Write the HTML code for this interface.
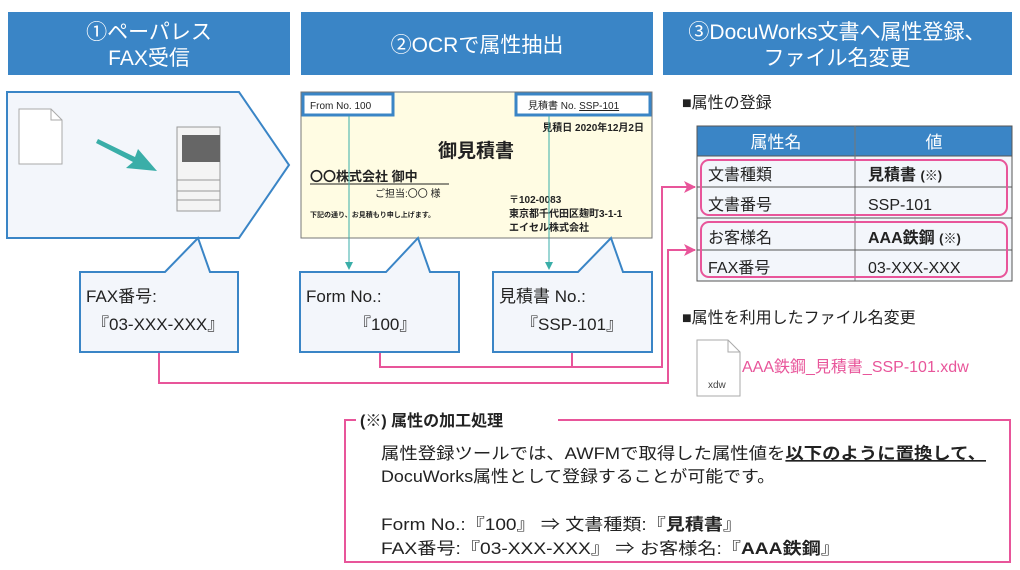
<!DOCTYPE html>
<html><head><meta charset="utf-8"><style>
html,body{margin:0;padding:0;background:#fff}
svg{display:block}
text{font-family:"Liberation Sans","Noto Sans CJK JP",sans-serif}
</style></head><body>
<svg width="1020" height="570" viewBox="0 0 1020 570" xmlns="http://www.w3.org/2000/svg">
<defs><marker id="pa" markerWidth="12" markerHeight="12" refX="11" refY="6" orient="auto" markerUnits="userSpaceOnUse"><path d="M0,0 L12,6 L0,12 L3,6z" fill="#e8559a"/></marker></defs>
<!-- headers -->
<rect x="8" y="12" width="282" height="63" fill="#3a85c6"/>
<rect x="301" y="12" width="352" height="63" fill="#3a85c6"/>
<rect x="663" y="12" width="349" height="63" fill="#3a85c6"/>
<g fill="#fff" font-size="21" text-anchor="middle">
<text x="149" y="39">①ペーパレス</text><text x="149" y="65">FAX受信</text>
<text x="477" y="52">②OCRで属性抽出</text>
<text x="837" y="39">③DocuWorks文書へ属性登録、</text><text x="837" y="65">ファイル名変更</text>
</g>
<!-- pentagon -->
<path d="M7,92 L239,92 L289,165 L239,238 L7,238Z" fill="#f3f6fb" stroke="#3a85c6" stroke-width="2"/>
<path d="M19,109 L51,109 L62,120 L62,164 L19,164Z" fill="#fff" stroke="#aaa"/>
<path d="M51,109 L51,120 L62,120" fill="none" stroke="#aaa"/>
<path d="M98,139 L135,157 L138,149 L157,171 L126,168 L133,162 L96,143Z" fill="#3aaea8"/>
<rect x="177" y="127" width="43" height="84" fill="#f4f4f4" stroke="#999"/>
<rect x="182" y="135" width="38" height="27" fill="#666"/>
<line x1="177" y1="180" x2="220" y2="180" stroke="#999"/><line x1="177" y1="191" x2="220" y2="191" stroke="#999"/><line x1="177" y1="200" x2="220" y2="200" stroke="#999"/>
<!-- FAX callout -->
<path d="M80,272 L165,272 L198,238 L210,272 L238,272 L238,352 L80,352Z" fill="#f3f6fb" stroke="#3a85c6" stroke-width="2"/>
<text x="86" y="302" font-size="17" fill="#222">FAX番号:</text>
<text x="92" y="330" font-size="17" fill="#222">『03-XXX-XXX』</text>
<!-- document -->
<rect x="301" y="92" width="351" height="146" fill="#fffce3" stroke="#777"/>
<rect x="303" y="94" width="90" height="21" fill="#fff" stroke="#3a85c6" stroke-width="3"/>
<text x="310" y="109" font-size="10" fill="#222">From No. 100</text>
<rect x="516" y="94" width="134" height="21" fill="#fff" stroke="#3a85c6" stroke-width="3"/>
<text x="528" y="109" font-size="10" fill="#222">見積書 No. <tspan text-decoration="underline">SSP-101</tspan></text>
<text x="644" y="131" font-size="10" fill="#222" text-anchor="end" font-weight="bold">見積日 2020年12月2日</text>
<text x="476" y="157" font-size="19" fill="#222" text-anchor="middle" font-weight="bold">御見積書</text>
<text x="310" y="181" font-size="13" fill="#222" font-weight="bold">〇〇株式会社  御中</text>
<line x1="310" y1="184" x2="449" y2="184" stroke="#222"/>
<text x="375" y="197" font-size="10" fill="#222">ご担当:〇〇  様</text>
<text x="310" y="217" font-size="7" fill="#222" font-weight="bold">下記の通り、お見積もり申し上げます。</text>
<g font-size="10" fill="#222" font-weight="bold"><text x="509" y="203">〒102-0083</text><text x="509" y="217">東京都千代田区麹町3-1-1</text><text x="509" y="231">エイセル株式会社</text></g>
<line x1="349" y1="116" x2="349" y2="265" stroke="#3aaea8"/><path d="M345,262 L353,262 L349,270Z" fill="#3aaea8"/>
<line x1="549" y1="116" x2="549" y2="265" stroke="#3aaea8"/><path d="M545,262 L553,262 L549,270Z" fill="#3aaea8"/>
<!-- callouts -->
<path d="M300,272 L386,272 L418,238 L430,272 L459,272 L459,352 L300,352Z" fill="#f3f6fb" stroke="#3a85c6" stroke-width="2"/>
<text x="306" y="302" font-size="17" fill="#222">Form No.:</text>
<text x="354" y="330" font-size="17" fill="#222">『100』</text>
<path d="M493,272 L578,272 L611,238 L623,272 L652,272 L652,352 L493,352Z" fill="#f3f6fb" stroke="#3a85c6" stroke-width="2"/>
<text x="499" y="302" font-size="17" fill="#222">見積書 No.:</text>
<text x="521" y="330" font-size="17" fill="#222">『SSP-101』</text>
<!-- pink connectors -->
<path d="M380,353 L380,367 L662,367 L662,187 L695,187" fill="none" stroke="#e8559a" stroke-width="2" marker-end="url(#pa)"/>
<line x1="572" y1="353" x2="572" y2="367" stroke="#e8559a" stroke-width="2"/>
<path d="M159,353 L159,383 L668,383 L668,250 L695,250" fill="none" stroke="#e8559a" stroke-width="2" marker-end="url(#pa)"/>
<!-- right section -->
<text x="682" y="108" font-size="16" fill="#222">■属性の登録</text>
<rect x="697" y="126" width="315" height="155" fill="#f3f6fb" stroke="#555"/>
<rect x="697" y="126" width="315" height="30" fill="#3a85c6" stroke="#555"/>
<line x1="855" y1="126" x2="855" y2="281" stroke="#777"/>
<line x1="697" y1="187" x2="1012" y2="187" stroke="#555"/><line x1="697" y1="218" x2="1012" y2="218" stroke="#555"/><line x1="697" y1="250" x2="1012" y2="250" stroke="#555"/>
<text x="776" y="148" font-size="17" fill="#fff" text-anchor="middle">属性名</text>
<text x="934" y="148" font-size="17" fill="#fff" text-anchor="middle">値</text>
<g font-size="16" fill="#222">
<text x="708" y="180">文書種類</text><text x="868" y="180" font-weight="bold">見積書 <tspan font-size="13">(※)</tspan></text>
<text x="708" y="210">文書番号</text><text x="868" y="210">SSP-101</text>
<text x="708" y="243">お客様名</text><text x="868" y="243" font-weight="bold">AAA鉄鋼 <tspan font-size="13">(※)</tspan></text>
<text x="708" y="273">FAX番号</text><text x="868" y="273">03-XXX-XXX</text>
</g>
<rect x="701" y="160" width="306" height="55" rx="8" fill="none" stroke="#e8559a" stroke-width="2"/>
<rect x="701" y="222" width="306" height="55" rx="8" fill="none" stroke="#e8559a" stroke-width="2"/>
<text x="682" y="323" font-size="16" fill="#222">■属性を利用したファイル名変更</text>
<path d="M697,340 L728,340 L740,352 L740,396 L697,396Z" fill="#fff" stroke="#aaa"/>
<path d="M728,340 L728,352 L740,352" fill="none" stroke="#aaa"/>
<text x="708" y="388" font-size="10" fill="#444">xdw</text>
<text x="742" y="372" font-size="16" fill="#e8559a">AAA鉄鋼_見積書_SSP-101.xdw</text>
<!-- bottom box -->
<path d="M356,420 L345,420 L345,562 L1010,562 L1010,420 L558,420" fill="none" stroke="#e8559a" stroke-width="2"/>
<text x="360" y="426" font-size="16" fill="#222" font-weight="bold">(※) 属性の加工処理</text>
<g font-size="16.5" fill="#222">
<text x="381" y="459" textLength="605" lengthAdjust="spacingAndGlyphs">属性登録ツールでは、AWFMで取得した属性値を<tspan font-weight="bold" text-decoration="underline">以下のように置換して、</tspan></text>
<text x="381" y="482" textLength="394" lengthAdjust="spacingAndGlyphs">DocuWorks属性として登録することが可能です。</text>
<text x="381" y="530" textLength="361" lengthAdjust="spacingAndGlyphs">Form No.:『100』  ⇒   文書種類:『<tspan font-weight="bold">見積書</tspan>』</text>
<text x="381" y="554" textLength="459" lengthAdjust="spacingAndGlyphs">FAX番号:『03-XXX-XXX』  ⇒   お客様名:『<tspan font-weight="bold">AAA鉄鋼</tspan>』</text>
</g>
</svg>
</body></html>
